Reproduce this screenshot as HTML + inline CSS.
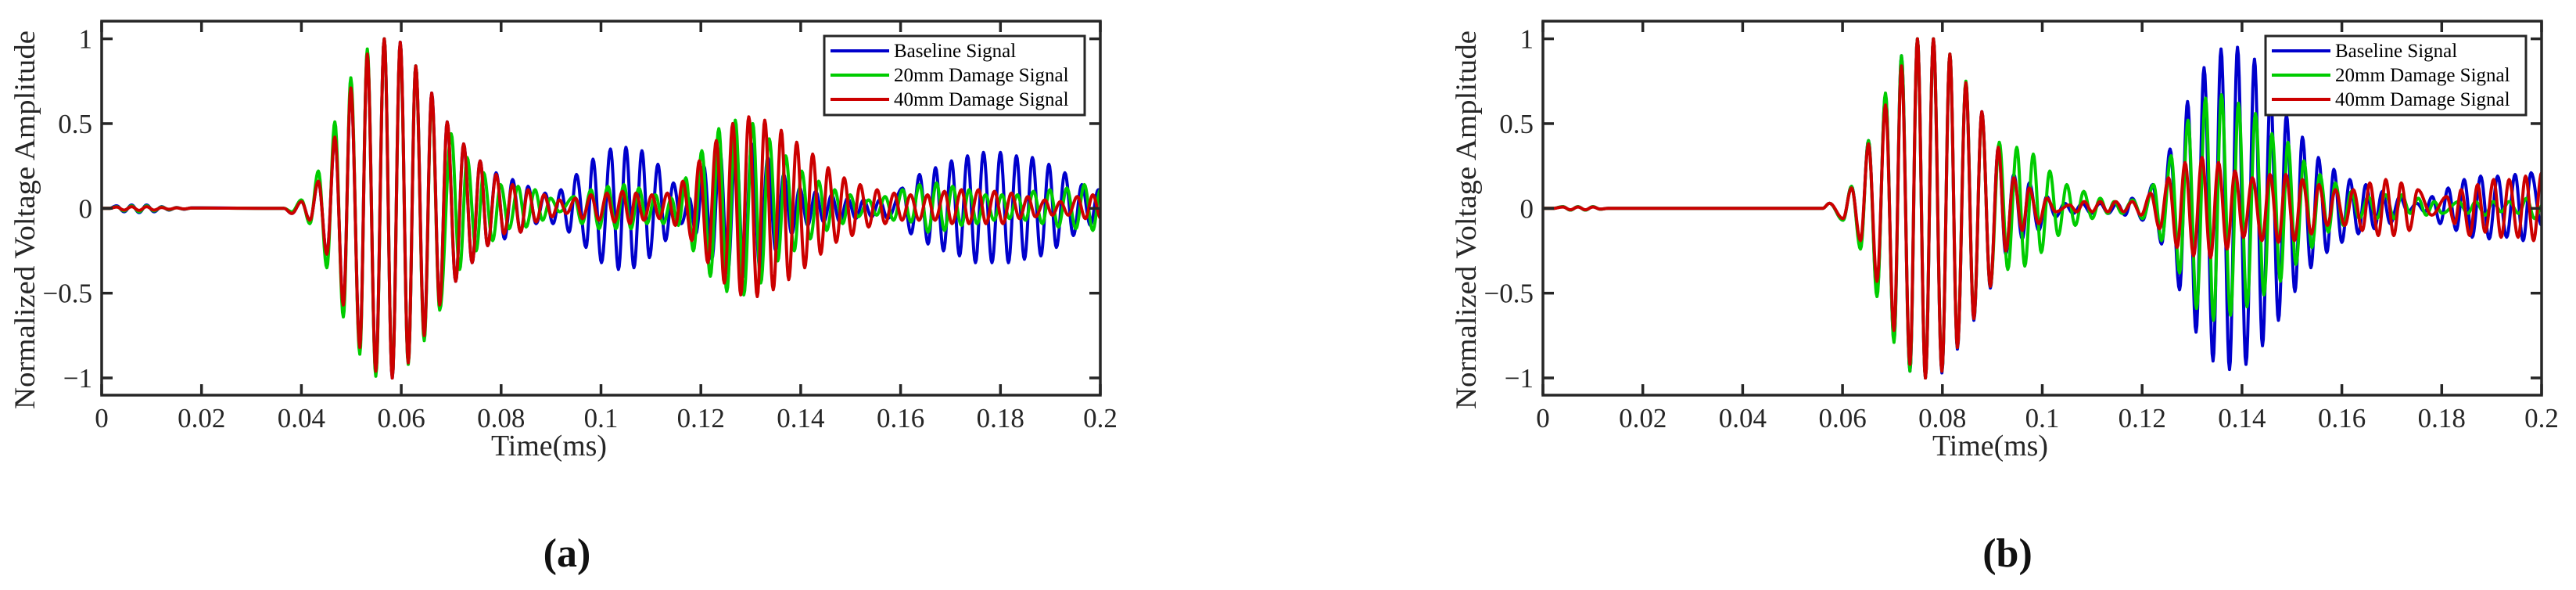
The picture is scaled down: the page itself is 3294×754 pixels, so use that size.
<!DOCTYPE html>
<html><head><meta charset="utf-8"><title>Normalized voltage signals</title>
<style>
html,body{margin:0;padding:0;background:#fff;}
svg{display:block;font-family:"Liberation Serif",serif;}
</style></head>
<body>
<svg id="fig" width="3294" height="754" viewBox="0 0 3294 754" xmlns="http://www.w3.org/2000/svg"></svg>
<script>
// ---------- shared axis data ----------
const xTickVals=[0,0.02,0.04,0.06,0.08,0.1,0.12,0.14,0.16,0.18,0.2];
const xTickLabels=["0","0.02","0.04","0.06","0.08","0.1","0.12","0.14","0.16","0.18","0.2"];
const yTickVals=[-1,-0.5,0,0.5,1];
const yTickLabels=["\u22121","\u22120.5","0","0.5","1"];
const seriesNames=["Baseline Signal","20mm Damage Signal","40mm Damage Signal"];

// ---------- panel (a): extrema times (ms) and values ----------
const aBlueT=[0,.0015,.003,.0045,.006,.0075,.009,.0105,.012,.0135,.015,.0165,.018,.0365,
.0381,.0400,.0417,.0434,.0451,.0467,.0484,.0499,.0517,.0532,.0549,.0566,.0582,.0598,.0614,.0629,.0646,.0661,.0677,.0692,.0709,.0725,.0742,.0758,.0773,
.0790,.0807,.0823,.0839,.0854,.0870,.0888,.0904,.0920,.0936,.0951,.0970,.0984,.1001,.1019,.1035,.1050,.1066,.1082,.1097,.1114,.1129,.1145,.1161,.1177,
.1190,.1206,.1222,.1238,.1254,.1270,.1286,.1302,.1318,.1334,.1350,.1366,.1382,.1398,.1414,.1430,.1446,.1462,.1478,.1494,.1510,.1526,.1542,.1558,.1574,
.1604,.1621,.1638,.1655,.1670,.1686,.1702,.1718,.1734,.1750,.1766,.1783,.1800,.1816,.1832,.1848,.1864,.1881,.1897,.1912,.1929,.1946,.1963,.1980,.1996];
const aBlueV=[0,0,.015,-.02,.02,-.025,.02,-.02,.01,-.01,.005,-.005,.003,0,
-.03,.04,-.07,.16,-.27,.42,-.57,.71,-.82,.91,-.96,1.0,-1.0,.98,-.91,.84,-.75,.68,-.57,.51,-.43,.38,-.32,.28,-.22,
.21,-.18,.17,-.14,.13,-.09,.09,-.09,.11,-.14,.20,-.23,.29,-.32,.35,-.36,.36,-.35,.34,-.29,.26,-.19,.15,-.09,.06,
-.15,.25,-.30,.35,-.38,.40,-.40,.38,-.35,.30,-.25,.20,-.15,.12,-.10,.10,-.08,.08,-.08,.06,-.06,.05,-.05,.05,-.06,
.12,-.15,.20,-.21,.24,-.25,.28,-.28,.31,-.32,.33,-.32,.33,-.32,.31,-.30,.30,-.28,.26,-.23,.21,-.16,.14,-.10,.11];

const aGreenT=[0,.0015,.003,.0045,.006,.0075,.009,.0105,.012,.0135,.015,.0165,.018,.0365,
.0381,.0400,.0417,.0434,.0451,.0467,.0484,.0499,.0517,.0532,.0549,.0566,.0582,.0598,.0614,.0629,.0646,.0661,.0677,
.0700,.0717,.0732,.0750,.0765,.0783,.0799,.0816,.0834,.0850,.0868,.0883,.0899,.0917,.0946,.0962,.0980,.0996,.1014,.1030,.1046,.1060,.1076,.1092,.1109,.1125,.1141,.1155,
.1170,.1185,.1202,.1219,.1236,.1252,.1269,.1286,.1304,.1320,.1337,.1354,.1370,.1387,.1402,.1419,.1436,.1452,.1468,.1484,.1499,.1515,
.1536,.1552,.1569,.1586,.1604,.1621,.1638,.1655,.1672,.1688,.1704,.1722,.1737,.1753,.1770,.1787,.1803,.1818,.1834,.1850,.1866,.1884,.1899,.1916,.1933,.1951,.1968,.1985,.2000];
const aGreenV=[0,0,.01,-.015,.015,-.02,.015,-.015,.008,-.008,.004,-.004,.002,0,
-.02,.05,-.09,.22,-.35,.51,-.64,.77,-.86,.94,-.99,1.0,-.99,.97,-.92,.84,-.78,.66,-.60,
.44,-.36,.30,-.25,.21,-.19,.14,-.12,.13,-.11,.11,-.07,.06,-.02,.07,-.09,.11,-.12,.13,-.12,.14,-.12,.12,-.09,.08,-.09,.06,-.10,
.18,-.25,.34,-.40,.47,-.49,.52,-.51,.50,-.44,.41,-.31,.31,-.25,.22,-.18,.16,-.13,.11,-.09,.08,-.05,
.05,-.04,.07,-.07,.11,-.08,.14,-.14,.15,-.13,.13,-.10,.11,-.09,.08,-.07,.08,-.06,.08,-.07,.10,-.09,.11,-.11,.12,-.12,.14,-.13,.11];

const aRedT=[0,.0015,.003,.0045,.006,.0075,.009,.0105,.012,.0135,.015,.0165,.018,.0365,
.0381,.0400,.0417,.0434,.0451,.0467,.0484,.0499,.0517,.0532,.0549,.0566,.0582,.0598,.0614,.0629,.0646,.0661,.0677,.0692,.0709,.0725,.0742,.0758,.0773,
.0790,.0806,.0823,.0839,.0854,.0870,.0886,.0902,.0917,.0931,.0949,.0963,.0980,.0996,.1012,.1027,.1043,
.1058,.1070,.1086,.1102,.1117,.1133,.1149,.1164,.1182,.1197,.1214,.1231,.1247,.1264,.1280,.1296,.1313,.1328,.1345,.1361,.1376,.1392,.1408,.1424,.1440,.1455,.1471,.1487,.1503,.1519,
.1536,.1553,.1569,.1587,.1603,.1620,.1637,.1654,.1669,.1688,.1703,.1722,.1737,.1756,.1771,.1788,.1805,.1822,.1838,.1855,.1870,.1889,.1904,.1920,.1936,.1954,.1970,.1985,.2001];
const aRedV=[0,0,.008,-.01,.01,-.012,.01,-.01,.005,-.005,.003,-.003,.002,0,
-.03,.04,-.07,.16,-.27,.42,-.57,.71,-.82,.91,-.96,1.0,-1.0,.98,-.91,.84,-.75,.68,-.57,.51,-.43,.38,-.32,.28,-.22,
.20,-.15,.14,-.14,.11,-.08,.08,-.05,.05,-.03,.06,-.06,.08,-.07,.09,-.08,.10,
-.09,.09,-.07,.08,-.06,.09,-.10,.16,-.19,.28,-.32,.40,-.44,.50,-.51,.54,-.52,.52,-.48,.46,-.42,.39,-.35,.32,-.27,.24,-.20,.18,-.16,.14,
-.11,.11,-.09,.09,-.07,.08,-.07,.08,-.07,.10,-.09,.11,-.09,.11,-.09,.10,-.09,.09,-.06,.07,-.05,.05,-.04,.04,-.04,.07,-.06,.08,-.06];

// ---------- panel (b) ----------
const bBlueT=[0,.002,.004,.0055,.007,.0085,.010,.0115,.013,.056,
.0574,.0601,.0618,.0636,.0652,.0669,.0686,.0703,.0718,.0735,.0750,.0766,.0782,.0799,.0815,.0830,.0847,.0863,.0879,.0896,.0912,.0927,.0943,.0960,.0974,.0993,.1009,.1027,.1045,.1062,.1080,.1098,.1116,.1132,.1150,.1166,
.1180,.1201,.1221,.1239,.1256,.1275,.1291,.1308,.1324,.1342,.1358,.1375,.1391,.1408,.1425,.1441,.1457,.1473,.1489,.1506,.1521,.1538,.1553,.1570,.1584,.1600,.1616,.1633,.1648,.1665,.1681,.1697,.1716,.1732,.1750,.1766,
.1781,.1797,.1813,.1829,.1845,.1861,.1878,.1895,.1912,.1930,.1947,.1963,.1979,.2000];
const bBlueV=[0,0,.01,-.01,.01,-.01,.01,-.005,0,0,
.03,-.07,.13,-.22,.40,-.50,.67,-.78,.90,-.96,1.0,-1.0,1.0,-.97,.91,-.83,.74,-.66,.57,-.47,.36,-.27,.20,-.18,.15,-.13,.07,-.05,.03,-.03,.03,-.03,.03,-.03,.03,-.04,
.06,-.07,.14,-.21,.35,-.48,.63,-.73,.83,-.90,.94,-.95,.95,-.92,.88,-.81,.69,-.66,.55,-.49,.42,-.35,.30,-.26,.23,-.20,.17,-.15,.14,-.12,.10,-.09,.07,-.02,.03,-.02,
.07,-.09,.12,-.13,.17,-.17,.19,-.18,.19,-.17,.20,-.19,.21,-.10];

const bGreenT=[0,.002,.004,.0055,.007,.0085,.010,.0115,.013,.056,
.0574,.0601,.0618,.0636,.0652,.0669,.0686,.0703,.0718,.0735,.0750,.0766,.0782,.0799,.0815,.0830,.0847,.0863,.0879,.0896,.0914,.0931,.0949,.0965,.0982,.0998,.1015,.1032,.1049,.1066,.1083,.1100,.1116,.1131,.1144,.1160,
.1181,.1201,.1223,.1239,.1258,.1275,.1292,.1309,.1327,.1343,.1359,.1377,.1393,.1410,.1427,.1444,.1460,.1477,.1492,.1508,.1524,.1540,.1556,.1573,.1587,.1603,.1619,.1635,.1653,.1670,.1688,.1705,.1720,.1737,.1753,.1769,.1785,.1801,
.1834,.1852,.1868,.1887,.1903,.1919,.1935,.1954,.1970,.1986,.2002];
const bGreenV=[0,0,.01,-.01,.01,-.01,.01,-.005,0,0,
.03,-.07,.13,-.24,.40,-.52,.68,-.79,.90,-.96,1.0,-1.0,1.0,-.96,.91,-.82,.75,-.65,.56,-.46,.39,-.36,.36,-.34,.32,-.26,.22,-.16,.14,-.10,.10,-.06,.06,-.03,.04,-.03,
.05,-.06,.14,-.19,.31,-.38,.52,-.59,.65,-.66,.67,-.63,.62,-.58,.56,-.51,.44,-.43,.39,-.33,.28,-.23,.20,-.14,.15,-.10,.10,-.06,.07,-.06,.08,-.06,.08,-.03,.06,-.04,.04,-.03,
.04,-.03,.04,-.04,.04,-.02,.04,-.03,.06,-.06,.02];

const bRedT=[0,.002,.004,.0055,.007,.0085,.010,.0115,.013,.056,
.0574,.0601,.0618,.0636,.0652,.0669,.0686,.0703,.0718,.0735,.0750,.0766,.0782,.0799,.0815,.0830,.0847,.0863,.0879,.0896,.0912,.0927,.0943,.0960,.0974,.0993,.1009,.1027,.1055,.1069,.1084,.1100,.1116,.1131,.1147,.1163,
.1180,.1198,.1217,.1235,.1253,.1270,.1286,.1303,.1320,.1337,.1353,.1370,.1386,.1403,.1421,.1440,.1456,.1473,.1488,.1505,.1521,.1539,.1554,.1571,.1587,.1606,.1623,.1641,.1656,.1673,.1688,.1704,.1719,.1735,.1752,.1780,
.1810,.1826,.1839,.1856,.1872,.1887,.1904,.1919,.1935,.1953,.1968,.1984,.2000];
const bRedV=[0,0,.008,-.008,.008,-.008,.008,-.004,0,0,
.03,-.06,.12,-.19,.38,-.43,.61,-.72,.84,-.92,1.0,-1.0,1.0,-.96,.91,-.82,.74,-.65,.57,-.46,.36,-.25,.18,-.13,.12,-.09,.06,-.02,.02,-.02,.04,-.02,.04,-.02,.04,-.02,
.04,-.04,.09,-.12,.18,-.23,.27,-.28,.30,-.29,.27,-.24,.22,-.17,.18,-.19,.20,-.20,.20,-.19,.17,-.15,.14,-.10,.11,-.10,.11,-.13,.15,-.16,.17,-.16,.15,-.13,.11,-.04,
.07,-.09,.11,-.16,.14,-.14,.17,-.17,.17,-.17,.19,-.19,.21];

// ---------- drawing ----------
const NS="http://www.w3.org/2000/svg";
const svg=document.getElementById('fig');
const COLORS=["#0000cc","#00cc00","#cc0000"];
const AX="#262626";
function mk(tag,attrs,parent){const e=document.createElementNS(NS,tag);for(const k in attrs)e.setAttribute(k,attrs[k]);(parent||svg).appendChild(e);return e;}

const panels=[
 {x0:130,x1:1407,tag:"(a)",tagX:725,series:[[aBlueT,aBlueV],[aGreenT,aGreenV],[aRedT,aRedV]]},
 {x0:1973,x1:3250,tag:"(b)",tagX:2567,series:[[bBlueT,bBlueV],[bGreenT,bGreenV],[bRedT,bRedV]]}
];
const yTop=27,yBot=505,yZero=266.3,yUnit=216.7;

panels.forEach((p,pi)=>{
 const id=pi===0?"a":"b";
 const g=mk('g',{});
 
 
 const xs=t=>p.x0+(t-0)/(0.2-0)*(p.x1-p.x0);
 const ys=v=>yZero-v*yUnit;
 const clipId='clip'+id;
 const cp=mk('clipPath',{id:clipId},g);
 mk('rect',{x:p.x0,y:yTop,width:p.x1-p.x0,height:yBot-yTop},cp);
 // series
 p.series.forEach((s,si)=>{
  const T=s[0],V=s[1];
  let d="M"+xs(T[0]).toFixed(2)+","+ys(V[0]).toFixed(2);
  for(let i=1;i<T.length;i++){
   const n=10;
   for(let k=1;k<=n;k++){
    const f=k/n, w=(1-Math.cos(Math.PI*f))/2;
    const t=T[i-1]+(T[i]-T[i-1])*f, v=V[i-1]+(V[i]-V[i-1])*w;
    d+="L"+xs(t).toFixed(2)+","+ys(v).toFixed(2);
   }
  }
  const last=T[T.length-1];
  if(last<0.2) d+="L"+xs(0.2).toFixed(2)+","+ys(V[V.length-1]).toFixed(2);
  const path=mk('path',{d:d,fill:"none",stroke:COLORS[si],"stroke-width":4,"stroke-linejoin":"round","clip-path":"url(#"+clipId+")"},g);
  
  
 });
 // frame
 const fr=mk('rect',{x:p.x0,y:yTop,width:p.x1-p.x0,height:yBot-yTop,fill:"none",stroke:AX,"stroke-width":3.5},g);
 
 
 // x ticks
 xTickVals.forEach((v,i)=>{
  const x=xs(v);
  mk('line',{x1:x,y1:yBot,x2:x,y2:yBot-14,stroke:AX,"stroke-width":3.5},g);
  mk('line',{x1:x,y1:yTop,x2:x,y2:yTop+14,stroke:AX,"stroke-width":3.5},g);
  const tx=mk('text',{x:x,y:546,"text-anchor":"middle","font-size":35,fill:AX},g);
  tx.textContent=xTickLabels[i];
  
  
 });
 // y ticks
 yTickVals.forEach((v,i)=>{
  const y=ys(v);
  mk('line',{x1:p.x0,y1:y,x2:p.x0+14,y2:y,stroke:AX,"stroke-width":3.5},g);
  mk('line',{x1:p.x1,y1:y,x2:p.x1-14,y2:y,stroke:AX,"stroke-width":3.5},g);
  const ty=mk('text',{x:p.x0-12,y:y+12,"text-anchor":"end","font-size":35,fill:AX},g);
  ty.textContent=yTickLabels[i];
  
  
 });
 // axis titles
 const yl=mk('text',{x:0,y:0,"text-anchor":"middle","font-size":37,fill:AX,textLength:484,lengthAdjust:"spacingAndGlyphs",transform:"translate("+(p.x0-86)+",281) rotate(-90)"},g);
 yl.textContent="Normalized Voltage Amplitude";
 
 
 const xl=mk('text',{x:p.x0+572,y:582,"text-anchor":"middle","font-size":38,fill:AX,textLength:148,lengthAdjust:"spacingAndGlyphs"},g);
 xl.textContent="Time(ms)";
 
 
 // legend
 const lx=p.x0+924;
 const lg=mk('g',{},g);
 
 
 mk('rect',{x:lx,y:46,width:333,height:101,fill:"#fff",stroke:AX,"stroke-width":3},lg);
 seriesNames.forEach((nm,si)=>{
  const ry=65+si*31;
  const e=mk('g',{},lg);
  
  
  mk('line',{x1:lx+8,y1:ry,x2:lx+83,y2:ry,stroke:COLORS[si],"stroke-width":4},e);
  const t=mk('text',{x:lx+89,y:ry+8,"font-size":25,fill:"#000"},e);
  t.textContent=nm;
 });
 // panel tag
 const tg=mk('text',{x:p.tagX,y:724,"text-anchor":"middle","font-size":52,"font-weight":"bold",fill:"#111"},g);
 tg.textContent=p.tag;
 
 
});
</script>
</body></html>
